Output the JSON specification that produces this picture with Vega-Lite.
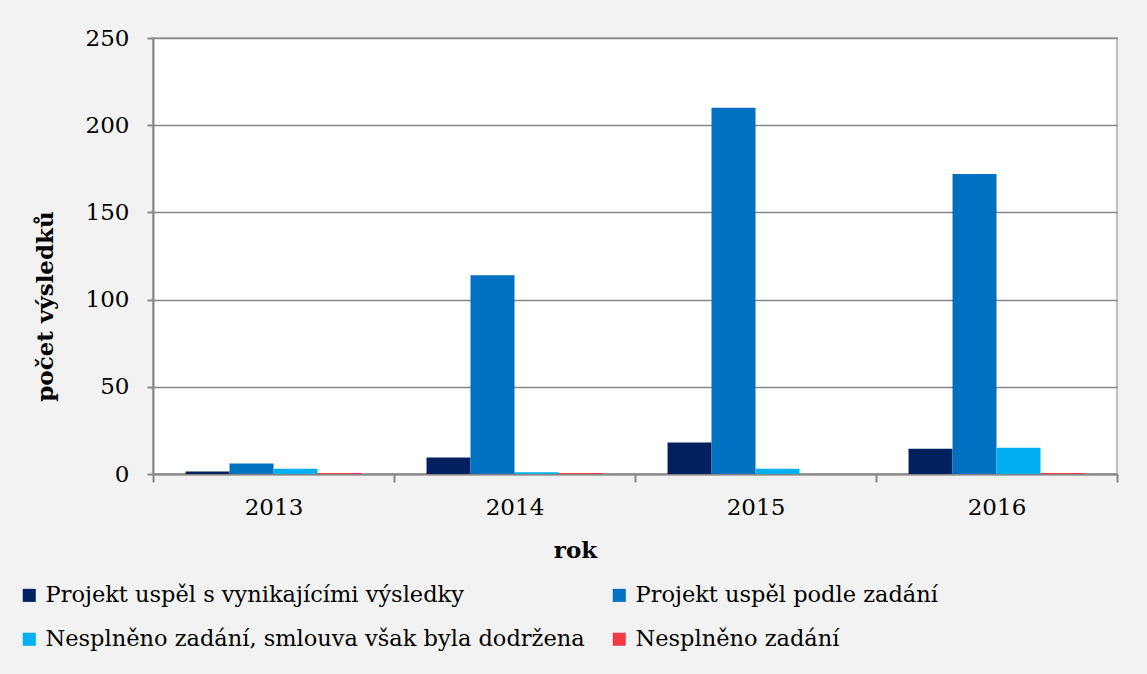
{
  "$schema": "https://vega.github.io/schema/vega-lite/v6.json",
  "autosize": {"type": "none"},
  "width": 964,
  "height": 436,
  "padding": {"left": 153, "top": 38, "right": 30, "bottom": 200},
  "background": "#F2F2F2",
  "config": {
    "font": "DejaVu Serif",
    "view": {"fill": "#FFFFFF", "stroke": "#BFBFBF", "strokeWidth": 2}
  },
  "data": {
    "values": [
      {"rok": "2013", "kategorie": "Projekt uspěl s vynikajícími výsledky", "pocet": 1.5},
      {"rok": "2013", "kategorie": "Projekt uspěl podle zadání", "pocet": 6},
      {"rok": "2013", "kategorie": "Nesplněno zadání, smlouva však byla dodržena", "pocet": 3},
      {"rok": "2013", "kategorie": "Nesplněno zadání", "pocet": 0.6},
      {"rok": "2014", "kategorie": "Projekt uspěl s vynikajícími výsledky", "pocet": 9.5},
      {"rok": "2014", "kategorie": "Projekt uspěl podle zadání", "pocet": 114},
      {"rok": "2014", "kategorie": "Nesplněno zadání, smlouva však byla dodržena", "pocet": 1},
      {"rok": "2014", "kategorie": "Nesplněno zadání", "pocet": 0.6},
      {"rok": "2015", "kategorie": "Projekt uspěl s vynikajícími výsledky", "pocet": 18},
      {"rok": "2015", "kategorie": "Projekt uspěl podle zadání", "pocet": 210},
      {"rok": "2015", "kategorie": "Nesplněno zadání, smlouva však byla dodržena", "pocet": 3},
      {"rok": "2015", "kategorie": "Nesplněno zadání", "pocet": 0},
      {"rok": "2016", "kategorie": "Projekt uspěl s vynikajícími výsledky", "pocet": 14.5},
      {"rok": "2016", "kategorie": "Projekt uspěl podle zadání", "pocet": 172},
      {"rok": "2016", "kategorie": "Nesplněno zadání, smlouva však byla dodržena", "pocet": 15},
      {"rok": "2016", "kategorie": "Nesplněno zadání", "pocet": 0.6}
    ]
  },
  "mark": {"type": "bar"},
  "encoding": {
    "x": {
      "field": "rok", "type": "nominal",
      "scale": {"paddingInner": 0, "paddingOuter": 0},
      "axis": {
        "title": "rok", "titleFont": "DejaVu Serif", "titleFontSize": 23, "titleFontWeight": "bold", "titleColor": "#000000",
        "titleX": 422, "titleY": 76, "titleBaseline": "middle",
        "labelAngle": 0, "labelFont": "DejaVu Serif", "labelFontSize": 23, "labelColor": "#000000", "labelPadding": 14,
        "tickBand": "extent", "tickSize": 8, "tickColor": "#868686", "tickWidth": 2,
        "domainColor": "#868686", "domainWidth": 2, "grid": false
      }
    },
    "xOffset": {
      "field": "kategorie", "type": "nominal",
      "sort": ["Projekt uspěl s vynikajícími výsledky", "Projekt uspěl podle zadání", "Nesplněno zadání, smlouva však byla dodržena", "Nesplněno zadání"],
      "scale": {"paddingInner": 0, "paddingOuter": 0.74}
    },
    "y": {
      "field": "pocet", "type": "quantitative",
      "scale": {"domain": [0, 250]},
      "axis": {
        "title": "počet výsledků", "titleFont": "DejaVu Serif", "titleFontSize": 23, "titleFontWeight": "bold", "titleColor": "#000000",
        "titleX": -108, "titleY": 268, "titleAngle": 270, "titleAlign": "center", "titleBaseline": "middle",
        "values": [0, 50, 100, 150, 200, 250],
        "labelFont": "DejaVu Serif", "labelFontSize": 23, "labelColor": "#000000", "labelPadding": 18,
        "tickSize": 6, "tickColor": "#868686", "tickWidth": 2,
        "domainColor": "#868686", "domainWidth": 2,
        "gridColor": "#868686", "gridWidth": 1.5
      }
    },
    "color": {
      "field": "kategorie", "type": "nominal",
      "sort": ["Projekt uspěl s vynikajícími výsledky", "Projekt uspěl podle zadání", "Nesplněno zadání, smlouva však byla dodržena", "Nesplněno zadání"],
      "scale": {
        "domain": ["Projekt uspěl s vynikajícími výsledky", "Projekt uspěl podle zadání", "Nesplněno zadání, smlouva však byla dodržena", "Nesplněno zadání"],
        "range": ["#002060", "#0070C0", "#00B0F0", "#EE3B45"]
      },
      "legend": {
        "title": null, "orient": "none", "legendX": -135, "legendY": 546,
        "columns": 2, "direction": "horizontal", "columnPadding": 23, "rowPadding": 21,
        "symbolType": "square", "symbolSize": 170, "symbolStrokeWidth": 0,
        "labelFont": "DejaVu Serif", "labelFontSize": 22.5, "labelColor": "#000000", "labelOffset": 5, "labelLimit": 700
      }
    }
  }
}
